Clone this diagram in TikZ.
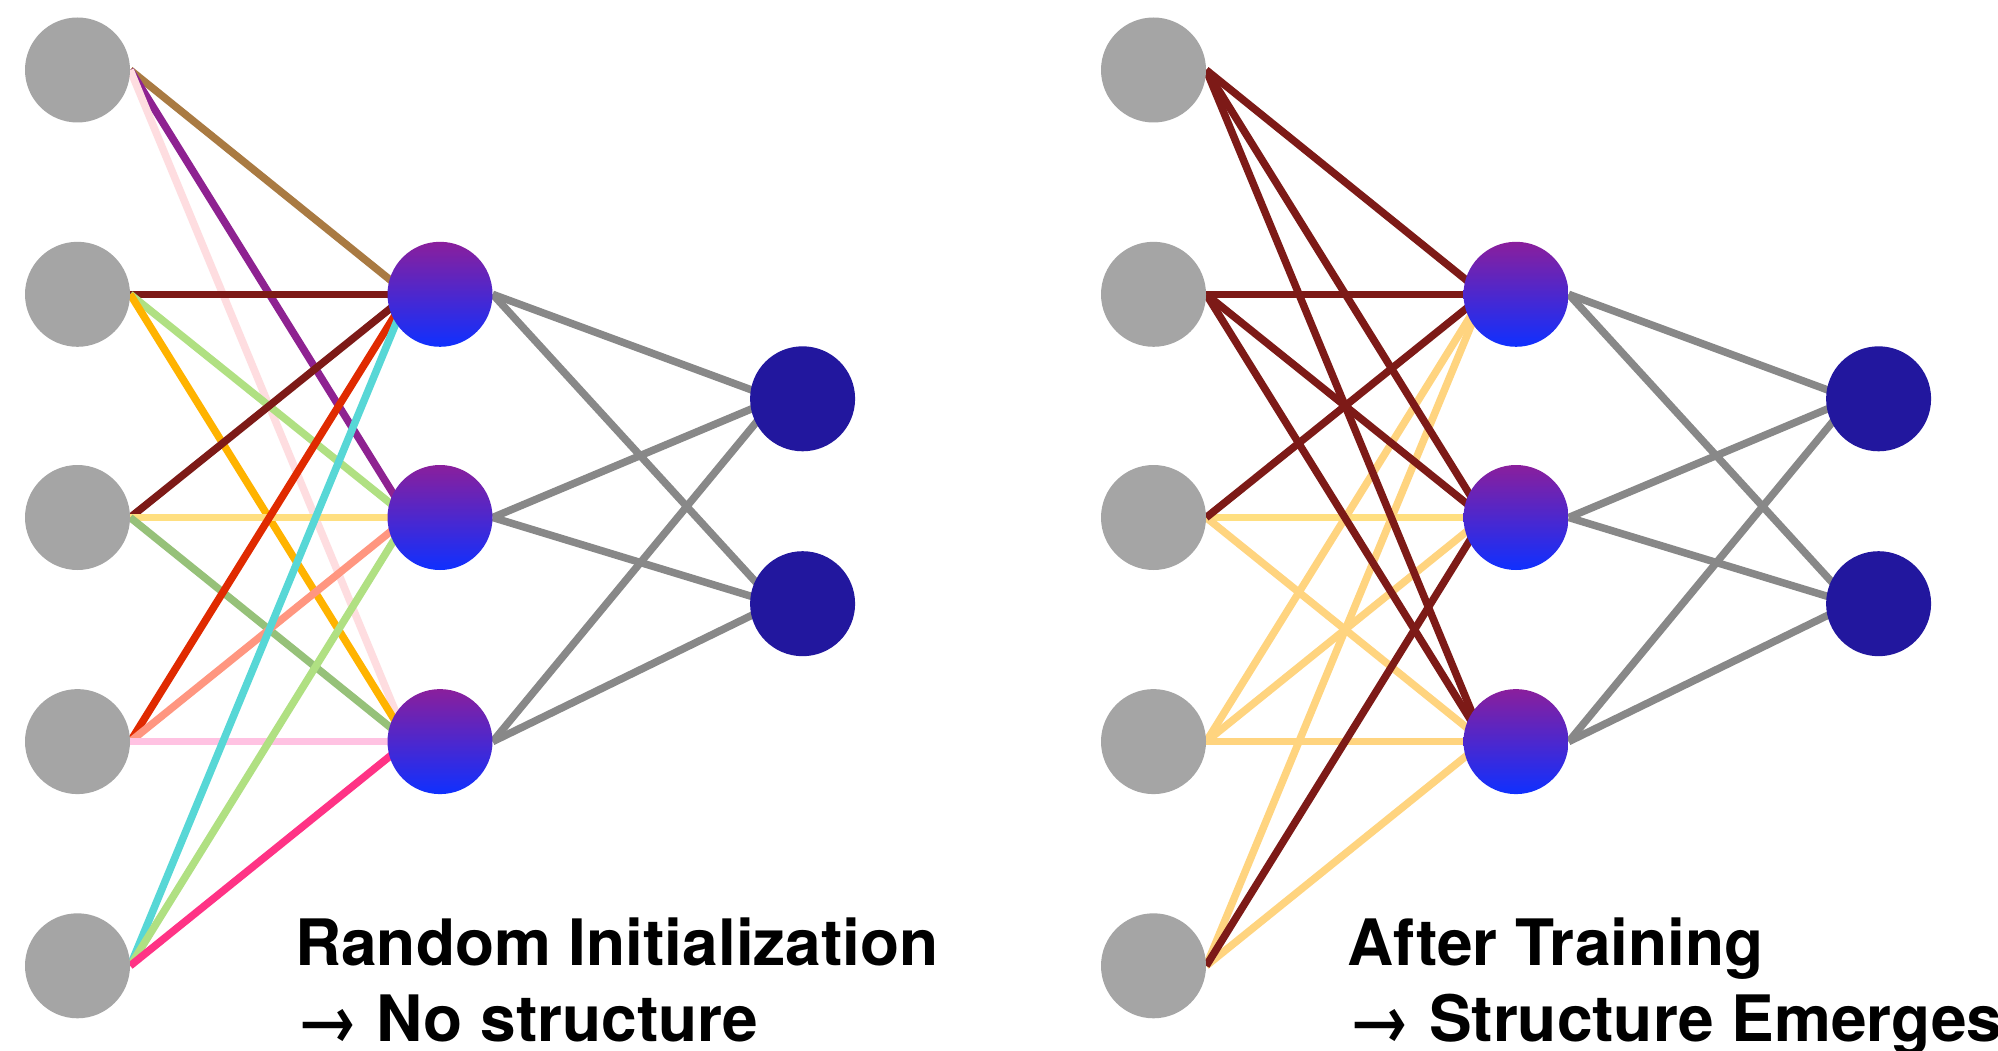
\documentclass[tikz,border=0pt]{standalone}
\usepackage{fontspec}
\setmainfont{TeX Gyre Heros}

\definecolor{inGray}{HTML}{A5A5A5}
\definecolor{hidTop}{HTML}{8A1F9C}
\definecolor{hidBot}{HTML}{0F30FF}
\definecolor{outBlue}{HTML}{22179E}
\definecolor{wireGray}{HTML}{888888}
\definecolor{cBrown}{HTML}{A97A42}
\definecolor{cPurple}{HTML}{8E2291}
\definecolor{cPale}{HTML}{FEDDE0}
\definecolor{cMaroon}{HTML}{7D1A17}
\definecolor{cLime}{HTML}{B0E082}
\definecolor{cAmber}{HTML}{FFB300}
\definecolor{cLemon}{HTML}{FFDF80}
\definecolor{cSage}{HTML}{96C179}
\definecolor{cRed}{HTML}{E02A00}
\definecolor{cSalmon}{HTML}{FF9680}
\definecolor{cRose}{HTML}{FFC2E2}
\definecolor{cCyan}{HTML}{57D7D6}
\definecolor{cHotPink}{HTML}{FF3385}
\definecolor{cPeach}{HTML}{FFD47F}

\pgfdeclarelayer{paper}
\pgfdeclarelayer{wires}
\pgfsetlayers{paper,wires,main}

% one weighted connection: from the right edge of a unit into the next one
\newcommand\linkunits[3]{\draw[wire,#1] (#2.east) -- ([xshift=-32pt]#3.center);}

\begin{document}
\begin{tikzpicture}[x=1pt,y=-1pt,
  neuron/.style={circle,inner sep=0pt,minimum size=105pt},
  inputn/.style={neuron,fill=inGray},
  hiddenn/.style={neuron,top color=hidTop,bottom color=hidBot},
  outputn/.style={neuron,fill=outBlue},
  wire/.style={line width=7.5pt},
  caption/.style={anchor=base west,inner sep=0pt,
    font=\fontsize{64pt}{77pt}\selectfont\bfseries}]

\useasboundingbox (0,0) rectangle (1998,1051);
\clip (0,0) rectangle (1998,1051);
\begin{pgfonlayer}{paper}
  \fill[white] (0,0) rectangle (1998,1051);
\end{pgfonlayer}

% ---------- units: left network (untrained) and right network (trained)
\foreach \y [count=\i] in {70,294.3,517.5,741.6,965.8} {
  \node[inputn] (Li\i) at (77.5,\y) {};
  \node[inputn] (Ri\i) at (1153.5,\y) {};
}
\foreach \y [count=\i] in {294.3,517.5,741.6} {
  \node[hiddenn] (Lh\i) at (440,\y) {};
  \node[hiddenn] (Rh\i) at (1516,\y) {};
}
\foreach \y [count=\i] in {398.8,603.7} {
  \node[outputn] (Lo\i) at (802.6,\y) {};
  \node[outputn] (Ro\i) at (1878.6,\y) {};
}

\begin{pgfonlayer}{wires}
  % random initial weights, one colour per connection
  \linkunits{cBrown}{Li1}{Lh1}
  \linkunits{cPurple}{Li1}{Lh2}
  \linkunits{cPale}{Li1}{Lh3}
  \linkunits{cMaroon}{Li2}{Lh1}
  \linkunits{cLime}{Li2}{Lh2}
  \linkunits{cAmber}{Li2}{Lh3}
  \linkunits{cMaroon}{Li3}{Lh1}
  \linkunits{cLemon}{Li3}{Lh2}
  \linkunits{cSage}{Li3}{Lh3}
  \linkunits{cRed}{Li4}{Lh1}
  \linkunits{cSalmon}{Li4}{Lh2}
  \linkunits{cRose}{Li4}{Lh3}
  \linkunits{cCyan}{Li5}{Lh1}
  \linkunits{cLime}{Li5}{Lh2}
  \linkunits{cHotPink}{Li5}{Lh3}

  % trained weights: weak ones first, strong ones on top
  \linkunits{cLemon}{Ri3}{Rh2}
  \linkunits{cPeach}{Ri3}{Rh3}
  \linkunits{cPeach}{Ri4}{Rh1}
  \linkunits{cPeach}{Ri4}{Rh2}
  \linkunits{cPeach}{Ri4}{Rh3}
  \linkunits{cPeach}{Ri5}{Rh1}
  \linkunits{cPeach}{Ri5}{Rh3}
  \linkunits{cMaroon}{Ri1}{Rh1}
  \linkunits{cMaroon}{Ri1}{Rh2}
  \linkunits{cMaroon}{Ri1}{Rh3}
  \linkunits{cMaroon}{Ri2}{Rh1}
  \linkunits{cMaroon}{Ri2}{Rh2}
  \linkunits{cMaroon}{Ri2}{Rh3}
  \linkunits{cMaroon}{Ri3}{Rh1}
  \linkunits{cMaroon}{Ri5}{Rh2}

  % hidden to output connections
  \foreach \h in {1,2,3} {
    \foreach \o in {1,2} {
      \draw[wire,wireGray] (Lh\h.east) -- ([xshift=-27pt]Lo\o.center);
      \draw[wire,wireGray] (Rh\h.east) -- ([xshift=-27pt]Ro\o.center);
    }
  }
\end{pgfonlayer}

% ---------- captions
\node[caption] (Lcap1) at (295,965) {Random Initialization};
\node[caption] (Lcap2) at (295,1041.7) {→ No structure};
\node[caption] (Rcap1) at (1347,965) {After Training};
\node[caption] (Rcap2) at (1347,1041.7) {→ Structure Emerges};

\end{tikzpicture}
\end{document}
